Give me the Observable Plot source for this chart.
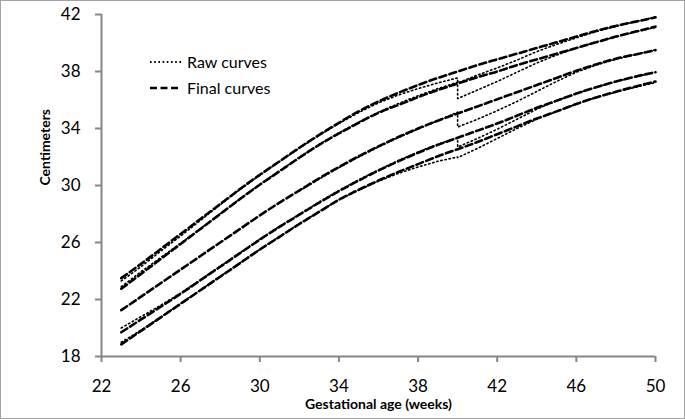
<!DOCTYPE html>
<html>
<head>
<meta charset="utf-8">
<script src="https://cdn.jsdelivr.net/npm/d3@7"></script>
<script src="https://cdn.jsdelivr.net/npm/@observablehq/plot@0.6"></script>
<style>
  body { margin: 0; background: white; }
  #wrap { position: relative; width: 685px; height: 419px; font-family: Lato, "Liberation Sans", sans-serif; }
  #border { position: absolute; left: 0; top: 0; width: 685px; height: 419px; box-sizing: border-box; border: 1px solid #a3a3a3; pointer-events: none; }
  .leg { position: absolute; font-size: 16px; line-height: 18px; color: #000; white-space: nowrap; }
  .legsw { position: absolute; }
</style>
</head>
<body>
<div id="wrap">
  <div id="chart"></div>
  <svg class="legsw" style="left:148px;top:56px" width="36" height="12"><line x1="2" x2="33" y1="6" y2="6" stroke="#000" stroke-width="1.8" stroke-dasharray="1.6,2.6"/></svg>
  <div class="leg" style="left:187px;top:53px">Raw curves</div>
  <svg class="legsw" style="left:148px;top:82px" width="36" height="12"><line x1="2" x2="33" y1="6" y2="6" stroke="#000" stroke-width="2.6" stroke-dasharray="7,3.5"/></svg>
  <div class="leg" style="left:187px;top:79px">Final curves</div>
  <div id="border"></div>
</div>
<script>
// Tick labels
const xTicks = [22, 26, 30, 34, 38, 42, 46, 50];
const yTicks = [18, 22, 26, 30, 34, 38, 42];

// Final (smoothed) curves, weekly 23..50
const weeks = [23,24,25,26,27,28,29,30,31,32,33,34,35,36,37,38,39,40,41,42,43,44,45,46,47,48,49,50];
const final97 = [23.5,24.5,25.55,26.6,27.65,28.7,29.75,30.75,31.7,32.65,33.55,34.4,35.2,35.9,36.5,37.05,37.55,38.0,38.45,38.85,39.25,39.65,40.05,40.45,40.85,41.2,41.5,41.8];
const final90 = [22.75,23.8,24.85,25.9,26.95,28.0,29.05,30.05,31.0,31.95,32.85,33.65,34.4,35.1,35.65,36.2,36.7,37.15,37.6,38.0,38.45,38.85,39.25,39.65,40.05,40.45,40.8,41.15];
const final50 = [21.25,22.2,23.15,24.1,25.05,26.0,26.95,27.9,28.8,29.65,30.5,31.3,32.05,32.75,33.4,34.0,34.55,35.05,35.55,36.05,36.55,37.05,37.55,38.05,38.5,38.9,39.2,39.5];
const final10 = [19.7,20.6,21.5,22.4,23.35,24.3,25.25,26.2,27.1,27.95,28.8,29.6,30.35,31.05,31.7,32.3,32.85,33.35,33.85,34.35,34.9,35.45,35.95,36.45,36.9,37.3,37.65,37.95];
const final3  = [18.85,19.8,20.75,21.7,22.65,23.6,24.55,25.5,26.4,27.3,28.15,29.0,29.7,30.35,30.95,31.5,32.05,32.55,33.05,33.6,34.15,34.7,35.2,35.72,36.18,36.58,36.95,37.3];

// Raw curves: preterm part (23..40; the raw median is only visible from 32)
const rawPreWeeks = [23,24,25,26,27,28,29,30,31,32,33,34,35,36,37,38,39,40];
const raw97Pre = [23.3,24.3,25.4,26.45,27.55,28.65,29.72,30.72,31.68,32.62,33.52,34.35,35.12,35.8,36.35,36.8,37.2,37.55];
const raw90Pre = [22.9,23.95,24.95,25.95,26.97,28.02,29.07,30.08,31.03,31.98,32.88,33.7,34.45,35.15,35.75,36.3,36.8,37.25];
const raw50PreWeeks = [32,33,34,35,36,37,38,39,40];
const raw50Pre = [29.62,30.45,31.25,32.0,32.7,33.36,33.96,34.55,35.15];
const raw10Pre = [20.0,20.8,21.6,22.45,23.38,24.33,25.28,26.23,27.13,27.99,28.84,29.65,30.4,31.1,31.75,32.35,32.9,33.35];
const raw3Pre  = [19.0,19.85,20.77,21.72,22.67,23.62,24.57,25.52,26.42,27.32,28.17,29.0,29.68,30.3,30.85,31.3,31.7,32.0];

// Raw curves: term part 40..50
const rawPostWeeks = [40,41,42,43,44,45,46,47,48,49,50];
const raw97Post = [37.2,37.75,38.25,38.8,39.4,39.9,40.37,40.8,41.17,41.5,41.82];
const raw90Post = [36.1,36.7,37.3,37.95,38.6,39.15,39.65,40.07,40.43,40.78,41.1];
const raw50Post = [34.1,34.65,35.25,35.9,36.6,37.3,37.95,38.45,38.86,39.2,39.52];
const raw10Post = [32.7,33.3,33.95,34.65,35.35,35.95,36.45,36.9,37.29,37.63,37.95];
const raw3Post  = [31.95,32.6,33.3,34.0,34.65,35.2,35.72,36.18,36.55,36.9,37.22];

const finalSeries = {p97: final97, p90: final90, p50: final50, p10: final10, p3: final3};
const rawPre = {
  p97: [rawPreWeeks, raw97Pre], p90: [rawPreWeeks, raw90Pre], p50: [raw50PreWeeks, raw50Pre],
  p10: [rawPreWeeks, raw10Pre], p3: [rawPreWeeks, raw3Pre]
};
const rawPost = {p97: raw97Post, p90: raw90Post, p50: raw50Post, p10: raw10Post, p3: raw3Post};

const finalRows = [];
for (const [k, vals] of Object.entries(finalSeries)) vals.forEach((v, i) => finalRows.push({series: k, week: weeks[i], value: v}));
const rawRows = [];
for (const k of Object.keys(rawPre)) {
  const [wk, vals] = rawPre[k];
  vals.forEach((v, i) => rawRows.push({series: k, week: wk[i], value: v}));
  rawPost[k].forEach((v, i) => rawRows.push({series: k, week: rawPostWeeks[i], value: v}));
}

const axisGray = "#868686";
const chart = Plot.plot({
  width: 685,
  height: 419,
  marginLeft: 101,
  marginRight: 30,
  marginTop: 14,
  marginBottom: 63,
  style: {fontFamily: "Lato, 'Liberation Sans', sans-serif", fontSize: "17px", color: "#000", background: "white", overflow: "visible"},
  x: {domain: [22, 50], label: null},
  y: {domain: [18, 42], label: null},
  marks: [
    Plot.axisX({ticks: xTicks, tickSize: 6, tickFormat: () => "", stroke: axisGray, strokeWidth: 2, label: null}),
    Plot.axisY({ticks: yTicks, tickSize: 6, tickFormat: () => "", stroke: axisGray, strokeWidth: 2, label: null}),
    Plot.text(xTicks, {x: d => d, y: 18, dy: 30, fontSize: 17, fill: "#000", text: d => String(d)}),
    Plot.text(yTicks, {x: 22, y: d => d, dx: -21, textAnchor: "end", fontSize: 17, fill: "#000", text: d => String(d)}),
    Plot.ruleY([18], {stroke: axisGray, strokeWidth: 2}),
    Plot.ruleX([22], {stroke: axisGray, strokeWidth: 2}),
    Plot.line(finalRows, {x: "week", y: "value", z: "series", stroke: "#000", strokeWidth: 2.6, strokeDasharray: "7,3.5", curve: "natural"}),
    Plot.line(rawRows, {x: "week", y: "value", z: "series", stroke: "#000", strokeWidth: 1.6, strokeDasharray: "1.4,2.8", curve: "linear"}),
    Plot.text(["Gestational age (weeks)"], {frameAnchor: "bottom", dy: 52, fontWeight: "bold", fontSize: 14, fill: "#000"}),
    Plot.text(["Centimeters"], {frameAnchor: "left", dx: -56, rotate: -90, fontWeight: "bold", fontSize: 14, fill: "#000"})
  ]
});
document.getElementById("chart").appendChild(chart);
</script>
</body>
</html>
